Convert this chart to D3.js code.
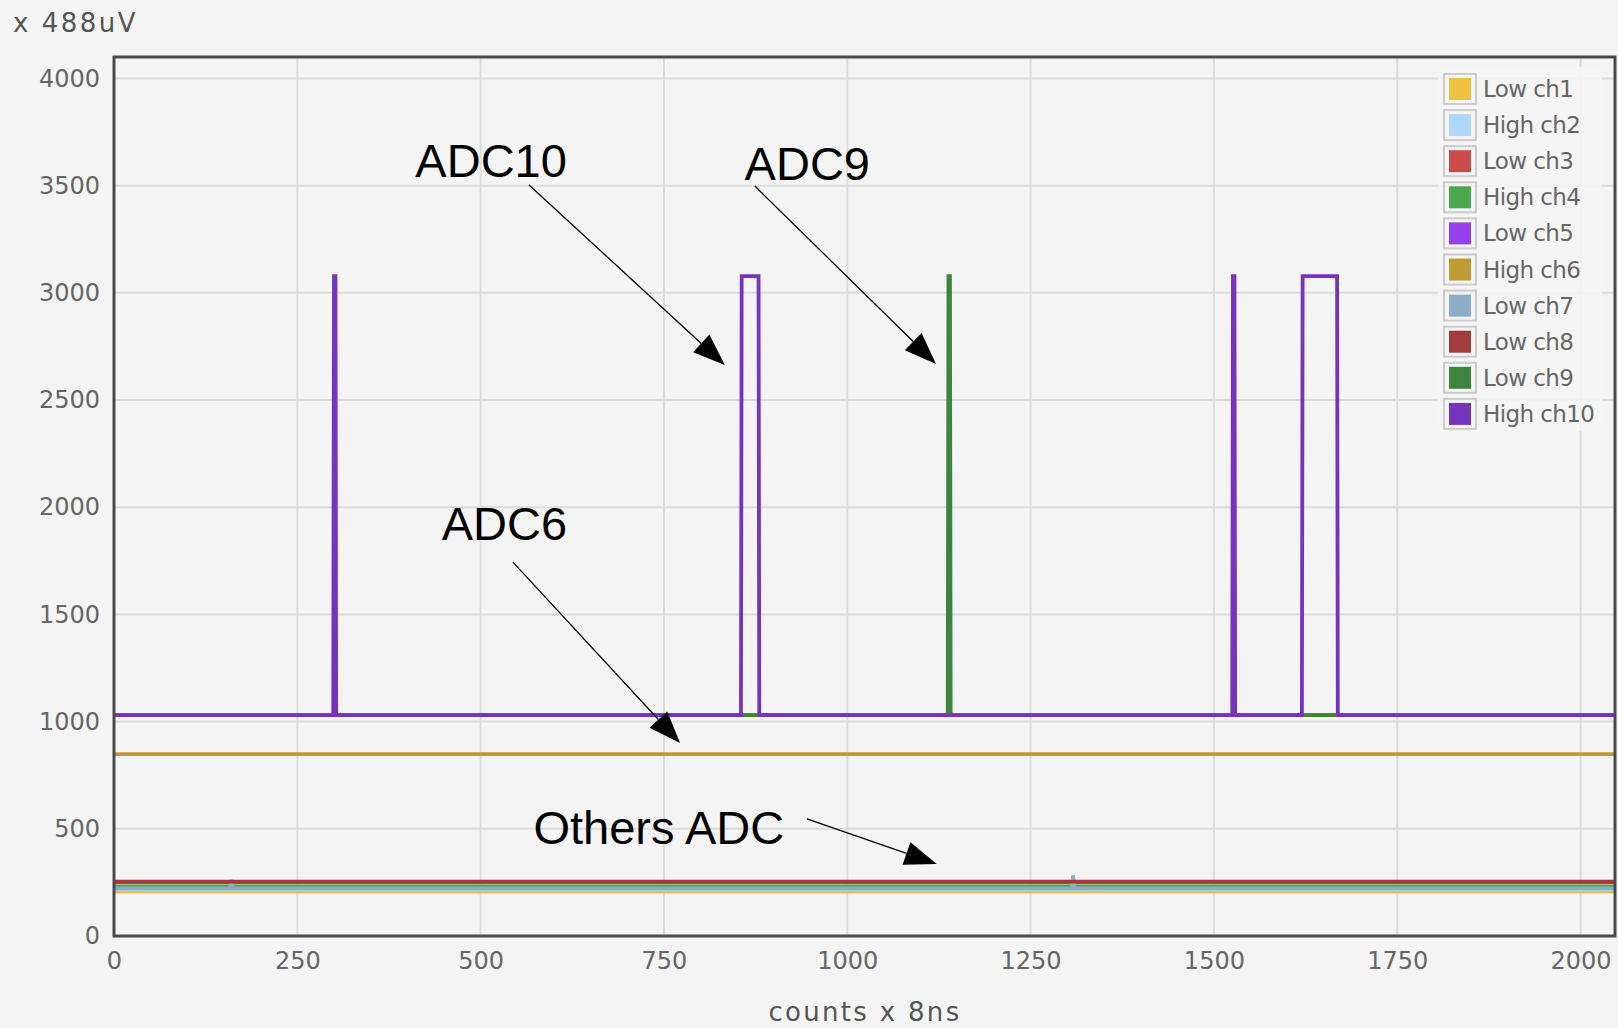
<!DOCTYPE html>
<html>
<head>
<meta charset="utf-8">
<script src="https://cdn.jsdelivr.net/npm/d3@7"></script>
<style>
  body { margin: 0; background: #f4f4f4; }
  svg { display: block; }
</style>
</head>
<body>
<div id="chart"></div>
<script>
// channel names and colours (flot default palette + darker variants)
var channels = ["Low ch1", "High ch2", "Low ch3", "High ch4", "Low ch5",
                "High ch6", "Low ch7", "Low ch8", "Low ch9", "High ch10"];
var colors = ["#edc240", "#afd8f8", "#cb4b4b", "#4da74d", "#9440ed",
              "#be9b33", "#8cadc6", "#a23c3c", "#3d853d", "#7633bd"];

// step data per channel: [sample, adc value] breakpoints
var ch1 = [[0, 207], [2047, 207]];
var ch2 = [[0, 219], [2047, 219]];
var ch3 = [[0, 250], [2047, 250]];
var ch4 = [[0, 231], [2047, 231]];
var ch5 = [[0, 1030], [2047, 1030]];
var ch6 = [[0, 848], [2047, 848]];
var ch7 = [[0, 222], [158, 222], [160, 262], [162, 222], [1306, 222], [1308, 282], [1310, 222], [2047, 222]];
var ch8 = [[0, 254], [2047, 254]];
var ch9 = [[0, 1030], [1137, 1030], [1138, 3078], [1140, 3078], [1141, 1030], [2047, 1030]];
var ch10 = [[0, 1030], [299, 1030], [300, 3078], [302, 3078], [303, 1030],
            [855, 1030], [856, 3078], [879, 3078], [880, 1030],
            [1525, 1030], [1526, 3078], [1528, 3078], [1529, 1030],
            [1620, 1030], [1621, 3078], [1668, 3078], [1669, 1030], [2047, 1030]];
var seriesData = [ch1, ch2, ch3, ch4, ch5, ch6, ch7, ch8, ch9, ch10];

var xTicks = [0, 250, 500, 750, 1000, 1250, 1500, 1750, 2000];
var yTicks = [0, 500, 1000, 1500, 2000, 2500, 3000, 3500, 4000];

// annotations in data units: label position, arrow start, arrow end
var annLabels = ["ADC10", "ADC9", "ADC6", "Others ADC"];
var annText = [[411, 3540], [860, 3526], [447, 1847], [572, 429]];
var annFrom = [[566, 3503], [874, 3498], [544, 1744], [945, 546]];
var annTo = [[833, 2663], [1121, 2668], [772, 900], [1122, 336]];

var W = 1618, H = 1028;
var pLeft = 114, pRight = 1615, pTop = 57, pBottom = 936;

var svg = d3.select("#chart").append("svg")
    .attr("width", W)
    .attr("height", H);

svg.append("rect").attr("width", W).attr("height", H).attr("fill", "#f4f4f4");

var x = d3.scaleLinear().domain([0, 2047]).range([pLeft, pRight]);
var y = d3.scaleLinear().domain([0, 4100]).range([pBottom, pTop]);

// grid
svg.append("g").selectAll("line")
    .data(xTicks).enter().append("line")
    .attr("x1", function(d) { return x(d); })
    .attr("x2", function(d) { return x(d); })
    .attr("y1", pTop).attr("y2", pBottom)
    .attr("stroke", "#dcdcdc").attr("stroke-width", 2);
svg.append("g").selectAll("line")
    .data(yTicks).enter().append("line")
    .attr("y1", function(d) { return y(d); })
    .attr("y2", function(d) { return y(d); })
    .attr("x1", pLeft).attr("x2", pRight)
    .attr("stroke", "#dcdcdc").attr("stroke-width", 2);

// axes (labels only)
var xAxis = svg.append("g")
    .attr("transform", "translate(0," + pBottom + ")")
    .call(d3.axisBottom(x).tickValues(xTicks).tickSize(0).tickPadding(16).tickFormat(d3.format("d")));
var yAxis = svg.append("g")
    .attr("transform", "translate(" + pLeft + ",0)")
    .call(d3.axisLeft(y).tickValues(yTicks).tickSize(0).tickPadding(14).tickFormat(d3.format("d")));
[xAxis, yAxis].forEach(function(a) {
    a.select(".domain").remove();
    a.selectAll("text")
        .style("font-family", "'DejaVu Sans', sans-serif")
        .style("font-size", "24px")
        .attr("fill", "#666");
});

// clip
svg.append("clipPath").attr("id", "plotclip")
    .append("rect").attr("x", pLeft).attr("y", pTop)
    .attr("width", pRight - pLeft).attr("height", pBottom - pTop);

var line = d3.line()
    .x(function(d) { return x(d[0]); })
    .y(function(d) { return y(d[1]); });

svg.append("g").attr("clip-path", "url(#plotclip)")
    .selectAll("path")
    .data(seriesData).enter().append("path")
    .attr("d", line)
    .attr("fill", "none")
    .attr("stroke", function(d, i) { return colors[i]; })
    .attr("stroke-width", 3.8)
    .attr("stroke-linejoin", "miter");

// frame
svg.append("rect")
    .attr("x", pLeft).attr("y", pTop)
    .attr("width", pRight - pLeft).attr("height", pBottom - pTop)
    .attr("fill", "none").attr("stroke", "#4a4a4a").attr("stroke-width", 3);

// legend
var legend = svg.append("g");
legend.append("rect")
    .attr("x", 1438).attr("y", 67).attr("width", 164).attr("height", 364)
    .attr("fill", "#f4f4f4").attr("opacity", 0.85);
var items = legend.selectAll(".item")
    .data(channels).enter().append("g")
    .attr("class", "item")
    .attr("transform", function(d, i) { return "translate(1444," + (89 + i * 36.1) + ")"; });
items.append("rect")
    .attr("x", 0).attr("y", -15).attr("width", 32).attr("height", 30)
    .attr("fill", "none").attr("stroke", "#cccccc").attr("stroke-width", 2);
items.append("rect")
    .attr("x", 5).attr("y", -11).attr("width", 22).attr("height", 22)
    .attr("fill", function(d, i) { return colors[i]; });
items.append("text")
    .attr("x", 39).attr("dy", "0.35em")
    .style("font-family", "'DejaVu Sans', sans-serif")
    .style("font-size", "23px")
    .style("letter-spacing", "-0.6px")
    .attr("fill", "#666")
    .text(function(d) { return d; });

// axis titles
svg.append("text")
    .attr("x", 13).attr("y", 32)
    .style("font-family", "'DejaVu Sans', sans-serif")
    .style("font-size", "26px")
    .style("letter-spacing", "2.5px")
    .attr("fill", "#555")
    .text("x 488uV");
svg.append("text")
    .attr("x", 865).attr("y", 1021)
    .attr("text-anchor", "middle")
    .style("font-family", "'DejaVu Sans', sans-serif")
    .style("font-size", "26px")
    .style("letter-spacing", "2.3px")
    .attr("fill", "#555")
    .text("counts x 8ns");

// annotations
var ann = svg.append("g");
for (var i = 0; i < annLabels.length; ++i) {
    ann.append("text")
        .attr("x", x(annText[i][0]))
        .attr("y", y(annText[i][1]))
        .style("font-family", "'Liberation Sans', Arial, sans-serif")
        .style("font-size", "47px")
        .attr("fill", "#000")
        .text(annLabels[i]);

    var x1 = x(annFrom[i][0]), y1 = y(annFrom[i][1]);
    var x2 = x(annTo[i][0]), y2 = y(annTo[i][1]);
    var ang = Math.atan2(y2 - y1, x2 - x1);
    var len = 32, half = 12;
    var bx = x2 - len * Math.cos(ang), by = y2 - len * Math.sin(ang);
    ann.append("line")
        .attr("x1", x1).attr("y1", y1).attr("x2", bx).attr("y2", by)
        .attr("stroke", "#000").attr("stroke-width", 1.3);
    ann.append("path")
        .attr("d", "M" + x2 + "," + y2 +
            "L" + (bx + half * Math.sin(ang)) + "," + (by - half * Math.cos(ang)) +
            "L" + (bx - half * Math.sin(ang)) + "," + (by + half * Math.cos(ang)) + "Z")
        .attr("fill", "#000");
}
</script>
</body>
</html>
